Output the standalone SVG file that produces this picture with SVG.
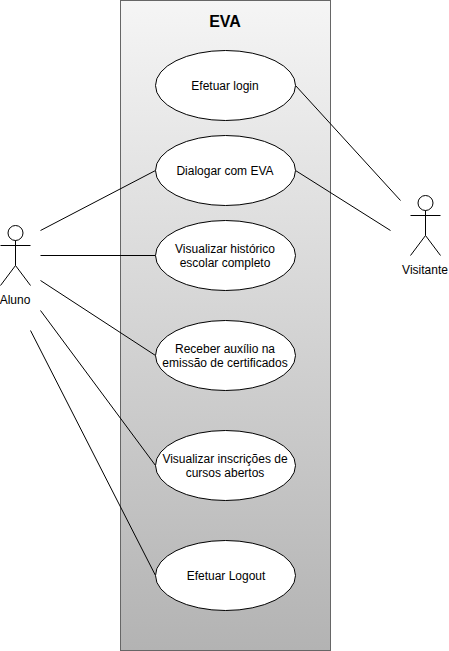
<svg xmlns="http://www.w3.org/2000/svg" width="449" height="651" viewBox="0 0 449 651">
<style>
text{font-family:"Liberation Sans",Arial,sans-serif;font-size:12px;fill:#000;text-anchor:middle}
.uc{fill:#fff;stroke:#000;stroke-width:1}
.ln{fill:none;stroke:#000;stroke-width:1}
</style>
<defs><linearGradient id="g" x1="0" y1="0" x2="0" y2="1"><stop offset="0" stop-color="#f5f5f5"/><stop offset="1" stop-color="#b3b3b3"/></linearGradient></defs>
<rect width="449" height="651" fill="#fff"/>
<g id="system"><rect x="120.500" y="0.500" width="210" height="650" fill="url(#g)" stroke="#666"/>
<text x="225" y="27" style="font-size:16px;font-weight:bold">EVA</text></g>
<g id="connectors">
<path class="ln" d="M295.500 85.500L400.500 200.500M295.500 170.500L390.500 230.500M155.500 170.500L40.500 230.500M155.500 255.500H40.500M155.500 355.500L40.500 280.500M155.500 465.500L40.500 310.500M155.500 575.500L30.500 330.500"/>
</g>
<g id="uc1"><ellipse class="uc" cx="225.500" cy="85.500" rx="70" ry="35"/><text x="225" y="90">Efetuar login</text></g>
<g id="uc2"><ellipse class="uc" cx="225.500" cy="170.500" rx="70" ry="35"/><text x="225" y="175">Dialogar com EVA</text></g>
<g id="uc3"><ellipse class="uc" cx="225.500" cy="255.500" rx="70" ry="35"/><text x="225" y="253">Visualizar histórico</text><text x="225" y="267">escolar completo</text></g>
<g id="uc4"><ellipse class="uc" cx="225.500" cy="355.500" rx="70" ry="35"/><text x="225" y="353">Receber auxílio na</text><text x="225" y="367">emissão de certificados</text></g>
<g id="uc5"><ellipse class="uc" cx="225.500" cy="465.500" rx="70" ry="35"/><text x="225" y="463">Visualizar inscrições de</text><text x="225" y="477">cursos abertos</text></g>
<g id="uc6"><ellipse class="uc" cx="225.500" cy="575.500" rx="70" ry="35"/><text x="226" y="580">Efetuar Logout</text></g>
<g id="aluno"><circle class="ln" cx="15.500" cy="233" r="7.500"/><path class="ln" d="M15.500 240.500V265.500M0.500 245.500H30.500M15.500 265.500L0.500 285.500M15.500 265.500L30.500 285.500"/><text x="15" y="304">Aluno</text></g>
<g id="visitante"><circle class="ln" cx="425.500" cy="203" r="7.500"/><path class="ln" d="M425.500 210.500V235.500M410.500 215.500H440.500M425.500 235.500L410.500 255.500M425.500 235.500L440.500 255.500"/><text x="425" y="274">Visitante</text></g>
</svg>
